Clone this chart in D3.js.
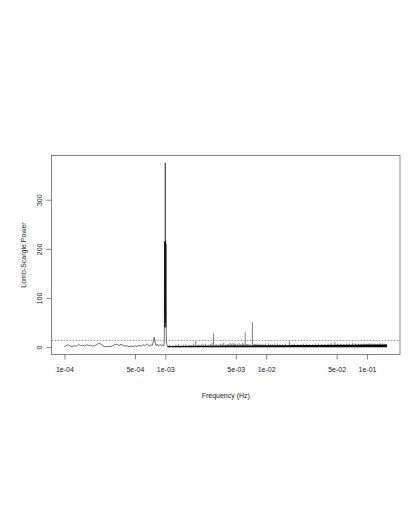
<!DOCTYPE html>
<html>
<head>
<meta charset="utf-8">
<script src="https://cdn.jsdelivr.net/npm/d3@7"></script>
<style>
  html, body { margin: 0; padding: 0; background: #fff; }
  text { font-family: "Liberation Sans", Arial, sans-serif; fill: #222; }
</style>
</head>
<body>
<svg id="chart" width="409" height="529"></svg>
<script>
// ---- data ----
const lowFreq = [1.00e-4, 1.047e-4, 1.096e-4, 1.148e-4, 1.202e-4, 1.259e-4, 1.318e-4, 1.380e-4, 1.445e-4, 1.514e-4,
  1.585e-4, 1.660e-4, 1.738e-4, 1.820e-4, 1.905e-4, 1.995e-4, 2.089e-4, 2.188e-4, 2.291e-4, 2.399e-4,
  2.512e-4, 2.630e-4, 2.754e-4, 2.884e-4, 3.020e-4, 3.162e-4, 3.311e-4, 3.467e-4, 3.631e-4, 3.802e-4,
  3.981e-4, 4.169e-4, 4.365e-4, 4.571e-4, 4.786e-4, 5.012e-4, 5.248e-4, 5.495e-4, 5.754e-4, 6.026e-4,
  6.310e-4, 6.607e-4, 6.918e-4, 7.244e-4, 7.413e-4, 7.586e-4, 7.762e-4, 7.943e-4, 8.128e-4, 8.318e-4,
  8.511e-4, 8.710e-4, 8.913e-4, 9.120e-4, 9.333e-4, 9.550e-4, 9.70e-4, 9.78e-4, 9.82e-4, 9.86e-4,
  9.90e-4, 9.95e-4, 1.000e-3, 1.004e-3, 1.008e-3, 1.012e-3, 1.016e-3, 1.022e-3, 1.030e-3, 1.045e-3];
const lowPower = [1, 3, 5, 2, 1, 3, 2, 6, 3, 4,
  2, 5, 3, 4, 2, 3, 5, 8, 6, 3,
  1, 1, 2, 1, 3, 5, 6, 3, 6, 4,
  2, 3, 1, 2, 1, 3, 1, 4, 2, 5,
  3, 7, 2, 5, 3, 10, 20, 8, 3, 6,
  2, 4, 5, 3, 5, 2, 4, 12, 215, 40,
  215, 60, 375, 50, 215, 40, 210, 30, 8, 2];

// dense (solid-looking) part of the periodogram: upper envelope
const bandFreq = [1.045e-3, 1.2e-3, 1.5e-3, 2e-3, 3e-3, 4e-3, 5e-3, 7e-3, 1e-2, 1.5e-2, 2e-2, 3e-2, 5e-2, 7e-2, 1e-1, 1.3e-1, 1.58e-1];
const bandTop  = [2, 2.5, 2.5, 3, 3, 3.5, 3.5, 3.5, 4, 4, 4.5, 4.5, 5, 5, 5.5, 5.5, 5.5];

// individual peaks rising above the dense part
const spikeFreq = [1.08e-3, 1.1e-3, 1.18e-3, 1.25e-3, 1.3e-3, 1.35e-3, 1.4e-3, 1.45e-3, 1.52e-3, 1.6e-3,
  1.68e-3, 1.75e-3, 1.82e-3, 1.9e-3, 2.0e-3, 2.08e-3, 2.15e-3, 2.22e-3, 2.3e-3, 2.4e-3,
  2.5e-3, 2.6e-3, 2.7e-3, 2.8e-3, 2.9e-3, 3.0e-3, 3.1e-3, 3.2e-3, 3.35e-3, 3.5e-3,
  3.65e-3, 3.8e-3, 3.95e-3, 4.1e-3, 4.25e-3, 4.4e-3, 4.55e-3, 4.7e-3, 4.85e-3, 5.0e-3,
  5.2e-3, 5.4e-3, 5.6e-3, 5.8e-3, 6.0e-3, 6.2e-3, 6.4e-3, 6.6e-3, 6.9e-3, 7.3e-3,
  7.6e-3, 7.8e-3, 8.1e-3, 8.5e-3, 8.9e-3, 9.3e-3, 9.8e-3, 1.05e-2, 1.1e-2, 1.15e-2,
  1.22e-2, 1.3e-2, 1.37e-2, 1.45e-2, 1.55e-2, 1.7e-2, 1.8e-2, 1.9e-2, 2.05e-2, 2.2e-2,
  2.35e-2, 2.5e-2, 2.7e-2, 2.9e-2, 3.1e-2, 3.3e-2, 3.55e-2, 3.8e-2, 4.1e-2, 4.4e-2,
  4.8e-2, 5.1e-2, 5.5e-2, 5.9e-2, 6.3e-2, 6.7e-2, 7.2e-2, 7.7e-2, 8.2e-2, 8.7e-2,
  9.3e-2, 9.9e-2, 1.05e-1, 1.12e-1, 1.2e-1, 1.27e-1, 1.35e-1, 1.42e-1, 1.5e-1, 1.56e-1];
const spikePower = [3, 4, 3, 5, 4, 6, 3, 4, 5, 6,
  4, 5, 4, 7, 12, 4, 5, 4, 6, 5,
  7, 4, 5, 6, 8, 28, 5, 6, 5, 7,
  6, 9, 5, 6, 7, 8, 6, 9, 6, 7,
  6, 8, 6, 9, 7, 30, 6, 7, 6, 51,
  7, 6, 7, 7, 6, 6, 7, 7, 6, 6,
  7, 7, 6, 6, 7, 12, 6, 7, 6, 6,
  7, 7, 6, 6, 7, 7, 6, 6, 7, 8,
  10, 7, 7, 6, 7, 7, 8, 7, 7, 7,
  7, 7, 8, 7, 7, 7, 8, 7, 7, 6];

const threshold = 13.5;
const xTicks = [1e-4, 5e-4, 1e-3, 5e-3, 1e-2, 5e-2, 1e-1];
const xTickLabels = ["1e-04", "5e-04", "1e-03", "5e-03", "1e-02", "5e-02", "1e-01"];
const yTicks = [0, 100, 200, 300];

// ---- layout ----
const svg = d3.select("#chart");
const L = 51.5, R = 400, T = 155.5, B = 354.5;
const fs = 7;

const lx0 = Math.log10(1e-4), lx1 = Math.log10(1.58e-1);
const padX = (lx1 - lx0) * 0.04;
const x = d3.scaleLog().domain([10 ** (lx0 - padX), 10 ** (lx1 + padX)]).range([L, R]);
const yMax = d3.max(lowPower);
const y = d3.scaleLinear().domain([-yMax * 0.04, yMax * 1.04]).range([B, T]);

svg.append("rect").attr("width", 409).attr("height", 529).attr("fill", "#fff");

svg.append("defs").append("clipPath").attr("id", "clip")
  .append("rect").attr("x", L).attr("y", T).attr("width", R - L).attr("height", B - T);

const plot = svg.append("g").attr("clip-path", "url(#clip)");

// dense band
const band = bandFreq.map((f, i) => [f, bandTop[i]]);
plot.append("path")
  .attr("d", d3.area().x(d => x(d[0])).y0(y(0)).y1(d => y(d[1]))(band))
  .attr("fill", "#000");

// spikes
plot.selectAll("line.spike").data(spikeFreq.map((f, i) => [f, spikePower[i]]))
  .join("line").attr("class", "spike")
  .attr("x1", d => x(d[0])).attr("x2", d => x(d[0]))
  .attr("y1", y(0)).attr("y2", d => y(d[1]))
  .attr("stroke", "#222").attr("stroke-width", 0.6);

// low-frequency line
const low = lowFreq.map((f, i) => [f, lowPower[i]]);
plot.append("path")
  .attr("d", d3.line().x(d => x(d[0])).y(d => y(d[1]))(low))
  .attr("fill", "none").attr("stroke", "#111").attr("stroke-width", 0.6)
  .attr("stroke-linejoin", "round");

// threshold line
svg.append("line")
  .attr("x1", L).attr("x2", R).attr("y1", y(threshold)).attr("y2", y(threshold))
  .attr("stroke", "#888").attr("stroke-width", 0.8).attr("stroke-dasharray", "1.8,1.2");

// box
svg.append("rect").attr("x", L).attr("y", T).attr("width", R - L).attr("height", B - T)
  .attr("fill", "none").attr("stroke", "#666").attr("stroke-width", 0.8);

// x axis
const gx = svg.append("g").attr("transform", `translate(0,${B})`)
  .call(d3.axisBottom(x).tickValues(xTicks).tickFormat((d, i) => xTickLabels[i]).tickSize(5).tickPadding(8));
gx.select(".domain").remove();
gx.selectAll("line").attr("stroke", "#666").attr("stroke-width", 0.8);
gx.selectAll("text").attr("font-size", fs).attr("font-family", "Liberation Sans, Arial, sans-serif").attr("fill", "#222");

// y axis
const gy = svg.append("g").attr("transform", `translate(${L},0)`)
  .call(d3.axisLeft(y).tickValues(yTicks).tickSize(5));
gy.select(".domain").remove();
gy.selectAll("line").attr("stroke", "#666").attr("stroke-width", 0.8);
gy.selectAll("text")
  .attr("font-size", fs).attr("font-family", "Liberation Sans, Arial, sans-serif").attr("fill", "#222")
  .attr("x", 0).attr("dy", 0).attr("text-anchor", "middle")
  .attr("transform", "translate(-9.7,0) rotate(-90)");

// labels
svg.append("text").attr("x", (L + R) / 2).attr("y", 397.5).attr("text-anchor", "middle")
  .attr("font-size", fs).text("Frequency (Hz)");
svg.append("text").attr("text-anchor", "middle").attr("font-size", fs)
  .attr("transform", `translate(25.8,${(T + B) / 2}) rotate(-90)`).text("Lomb-Scargle Power");
</script>
</body>
</html>
